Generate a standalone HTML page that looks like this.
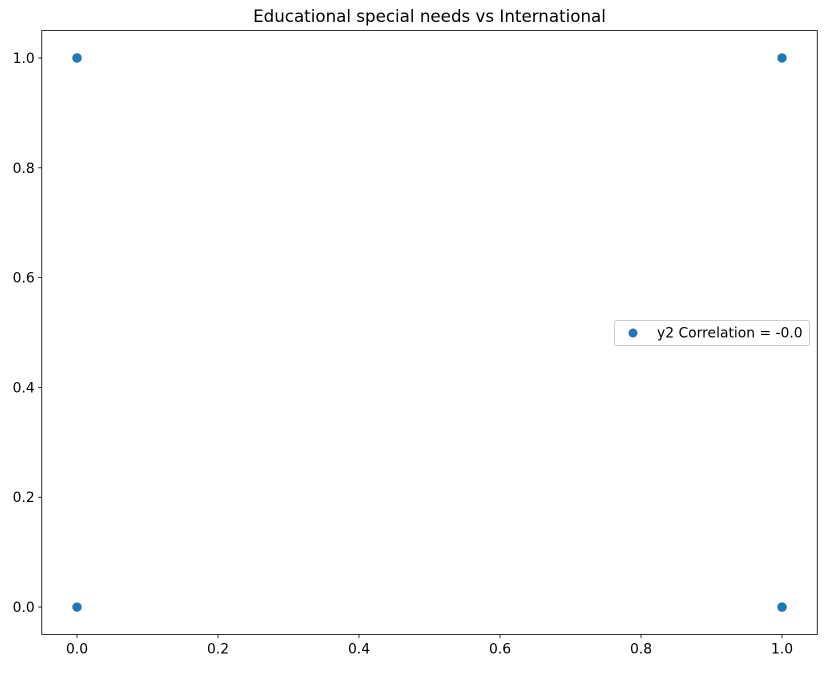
<!DOCTYPE html>
<html><head><meta charset="utf-8"><style>
body{margin:0;background:#fff;}
svg{font-family:"DejaVu Sans","Liberation Sans",sans-serif;}
</style></head><body>
<svg id="chart" width="826" height="668">
<rect width="826" height="668" fill="#fff"/>
<text x="429.5" y="22" text-anchor="middle" font-size="16.7">Educational special needs vs International</text>
<g id="marks"></g>
<g id="xticks"></g><g id="yticks"></g>
<rect x="41.75" y="30.5" width="775.5" height="604" fill="none" stroke="#000" stroke-width="0.8"/>
<g>
<rect x="614.5" y="320.5" width="195" height="25" rx="2" fill="#fff" stroke="#ccc"/>
<circle cx="633" cy="333" r="4.5" fill="#1f77b4"/>
<text x="657" y="337.5" font-size="13.9">y2 Correlation = -0.0</text>
</g>
</svg>
<script>
const xValues=[0,0,1,1,0,1];
const yValues=[1,0,1,0,1,0];
const xTickLabels=["0.0","0.2","0.4","0.6","0.8","1.0"];
const yTickLabels=["0.0","0.2","0.4","0.6","0.8","1.0"];
const NS="http://www.w3.org/2000/svg";
const L=41.75,R=817.25,T=30.5,B=634.5,xmin=-0.05,xmax=1.05,ymin=-0.05,ymax=1.05;
function sx(v){return L+(v-xmin)/(xmax-xmin)*(R-L);}
function sy(v){return B-(v-ymin)/(ymax-ymin)*(B-T);}
const marks=document.getElementById('marks');
xValues.forEach((x,i)=>{
const c=document.createElementNS(NS,'circle');
c.setAttribute('cx',sx(x));c.setAttribute('cy',sy(yValues[i]));c.setAttribute('r',4.7);c.setAttribute('fill','#1f77b4');


marks.appendChild(c);});
const xt=document.getElementById('xticks');
xTickLabels.forEach(t=>{const x=sx(parseFloat(t));
const l=document.createElementNS(NS,'line');l.setAttribute('x1',x);l.setAttribute('x2',x);l.setAttribute('y1',B);l.setAttribute('y2',B+3.5);l.setAttribute('stroke','#000');l.setAttribute('stroke-width','0.8');


xt.appendChild(l);
const tx=document.createElementNS(NS,'text');tx.setAttribute('x',x);tx.setAttribute('y',B+19);tx.setAttribute('text-anchor','middle');tx.setAttribute('font-size','13.9');tx.textContent=t;


xt.appendChild(tx);});
const yt=document.getElementById('yticks');
yTickLabels.forEach(t=>{const y=sy(parseFloat(t));
const l=document.createElementNS(NS,'line');l.setAttribute('x1',L-3.5);l.setAttribute('x2',L);l.setAttribute('y1',y);l.setAttribute('y2',y);l.setAttribute('stroke','#000');l.setAttribute('stroke-width','0.8');


yt.appendChild(l);
const tx=document.createElementNS(NS,'text');tx.setAttribute('x',L-7);tx.setAttribute('y',y+5);tx.setAttribute('text-anchor','end');tx.setAttribute('font-size','13.9');tx.textContent=t;


yt.appendChild(tx);});
</script>
</body></html>
